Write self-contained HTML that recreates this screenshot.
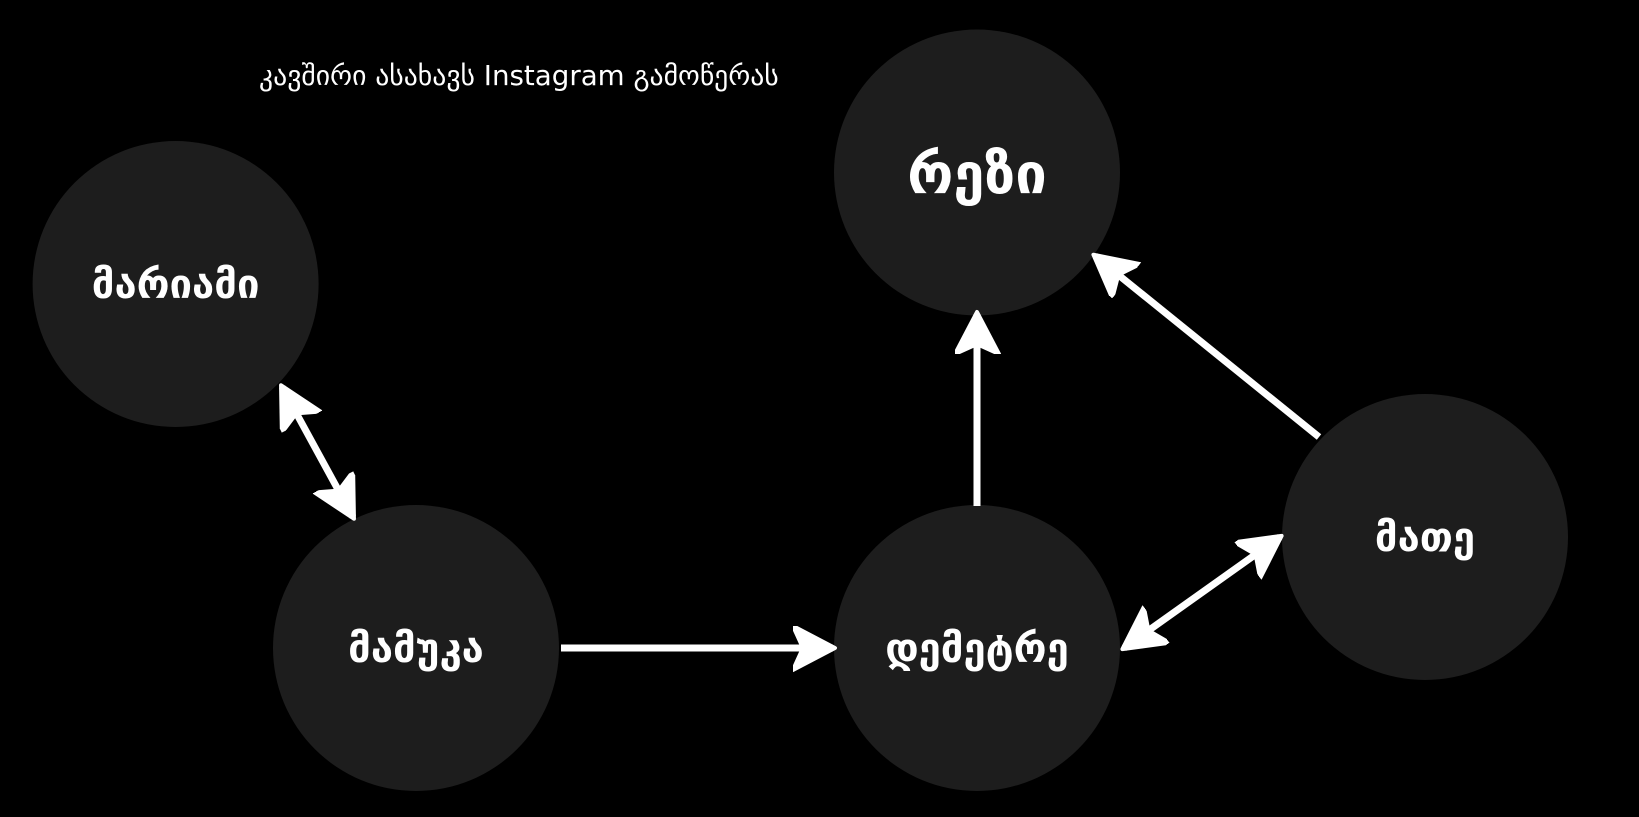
<!DOCTYPE html>
<html><head><meta charset="utf-8"><style>
html,body{margin:0;padding:0;background:#000;}
svg{display:block;}
text{font-family:"DejaVu Sans","Liberation Sans",sans-serif;fill:#fff;}
</style></head><body>
<svg width="1639" height="817" viewBox="0 0 1639 817" xmlns="http://www.w3.org/2000/svg">
<defs>
<marker id="ah" markerUnits="userSpaceOnUse" markerWidth="50" markerHeight="50" refX="40" refY="22" orient="auto-start-reverse">
<path d="M0,0 L42,22 L0,44 L10,22 z" fill="#fff" stroke="#fff" stroke-width="4" stroke-linejoin="round"/>
</marker>
</defs>
<rect width="1639" height="817" fill="#000"/>
<text x="259" y="85" font-size="27.7">კავშირი ასახავს Instagram გამოწერას</text>
<g fill="#1d1d1d">
<circle cx="175.6" cy="284" r="143"/>
<circle cx="416" cy="648" r="143"/>
<circle cx="977" cy="648" r="143"/>
<circle cx="977" cy="172.5" r="143"/>
<circle cx="1425" cy="537" r="143"/>
</g>
<g font-size="40" font-weight="bold" text-anchor="middle">
<text x="175.6" y="298">მარიამი</text>
<text x="416" y="662">მამუკა</text>
<text x="977" y="662">დემეტრე</text>
<text x="977" y="193" font-size="56">რეზი</text>
<text x="1425" y="551">მათე</text>
</g>
<g stroke="#fff" stroke-width="7" fill="none">
<line x1="282" y1="387" x2="353" y2="517" marker-start="url(#ah)" marker-end="url(#ah)"/>
<line x1="561" y1="648" x2="833" y2="648" marker-end="url(#ah)"/>
<line x1="977" y1="506" x2="977" y2="314" marker-end="url(#ah)"/>
<line x1="1319" y1="437" x2="1095" y2="256" marker-end="url(#ah)"/>
<line x1="1280" y1="537" x2="1124" y2="648" marker-start="url(#ah)" marker-end="url(#ah)"/>
</g>
</svg>
</body></html>
